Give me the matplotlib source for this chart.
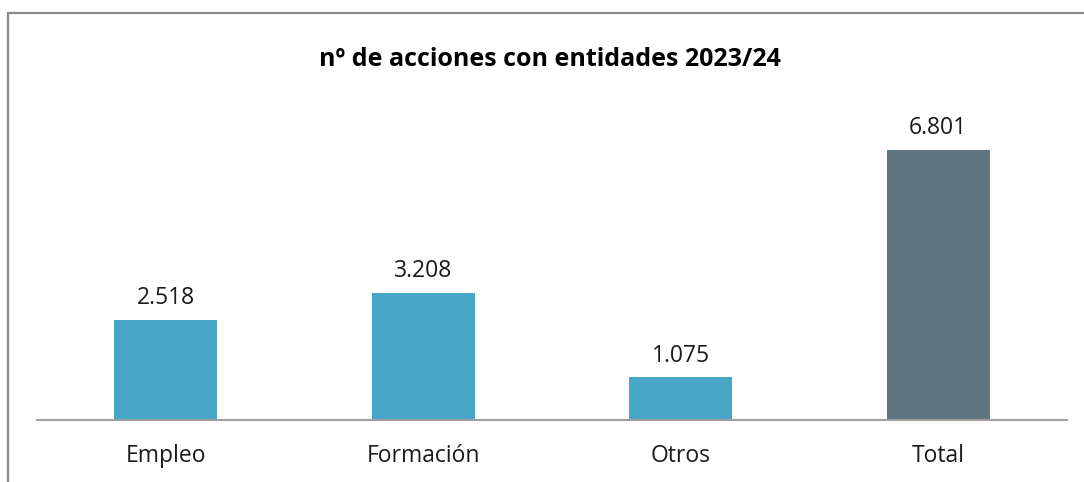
import matplotlib
matplotlib.use("Agg")
import matplotlib.pyplot as plt
from matplotlib.patches import Rectangle

categories = ["Empleo", "Formación", "Otros", "Total"]
values = [2518, 3208, 1075, 6801]
value_labels = ["2.518", "3.208", "1.075", "6.801"]
title = "nº de acciones con entidades 2023/24"

colors = ["#48A6C6", "#48A6C6", "#48A6C6", "#5D7680"]

plt.rcParams['font.family'] = ['Open Sans', 'DejaVu Sans']

W, H = 1084, 482
fig = plt.figure(figsize=(W / 100, H / 100), dpi=100)
fig.patch.set_facecolor("white")

# outer frame (left and top visible, extends beyond right/bottom)
fig.patches.append(Rectangle((7.5 / W, -0.1), 1.2, (H - 13) / H + 0.1,
                             transform=fig.transFigure, fill=False,
                             edgecolor="#898989", linewidth=1.6))

ax = fig.add_axes([37 / W, 62 / H, 1030 / W, 317.6 / H])
x = list(range(len(categories)))
bars = ax.bar(x, values, width=0.4, color=colors)
ax.set_xlim(-0.5, 3.5)
ax.set_ylim(0, 8000)

for xi, v, lab in zip(x, values, value_labels):
    ax.annotate(lab, (xi, v), xytext=(0, 7), textcoords="offset points",
                ha="center", va="bottom", fontsize=16.5, color="#1a1a1a")

for s in ["top", "right", "left"]:
    ax.spines[s].set_visible(False)
ax.spines["bottom"].set_color("#A0A0A0")
ax.spines["bottom"].set_linewidth(1.5)
ax.set_yticks([])
ax.set_xticks(x)
ax.set_xticklabels(categories, fontsize=16.5, color="#1a1a1a")
ax.tick_params(axis="x", length=0, pad=17)
ax.patch.set_alpha(0)

fig.text(550 / W, 1 - 59 / H, title, ha="center", va="center",
         fontsize=18, fontweight="bold", color="black")

fig.savefig("out.png", dpi=100)
